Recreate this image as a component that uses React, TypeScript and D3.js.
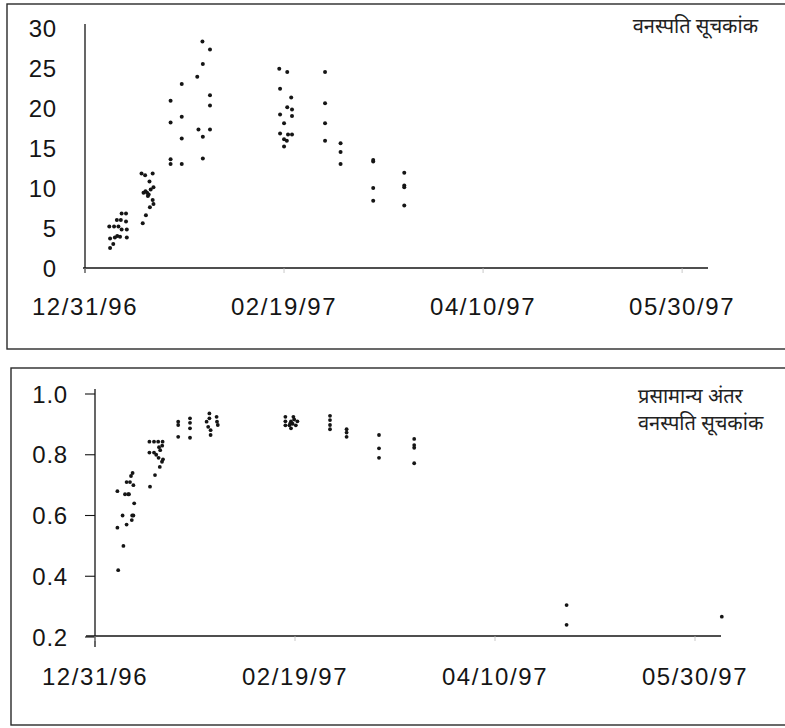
import React from "react";
import * as d3 from "d3";

// ---------- data ----------
// tick labels of the date axis (mm/dd/yy)
const dateTicks = ["12/31/96", "02/19/97", "04/10/97", "05/30/97"];
const axisEndDay = 156.5; // days after 12/31/96 where the axis line ends

// Top panel: vegetation index (days after 12/31/96, value)
const viDays = [
  6.3, 7.1, 6.3, 6.1, 7.3, 7.5, 8.1, 8.4, 8.0, 9.0, 9.2, 8.8, 10.3, 9.2, 10.3, 10.5, 10.5,
  14.5, 15.3, 14.2, 15.1, 16.2, 17.0, 17.2, 14.7, 15.2, 15.6, 16.0, 15.8, 16.3, 17.0, 17.2, 16.5,
  21.5, 21.5, 21.5, 21.5, 24.3, 24.3, 24.3, 24.3,
  29.5, 31.4, 29.6, 28.2, 31.4, 31.4, 28.5, 31.4, 29.6, 29.6,
  48.8, 50.8, 49.0, 51.8, 50.8, 52.0, 49.0, 52.0, 50.0, 49.0, 51.0, 52.0, 50.0, 50.7, 50.0,
  60.3, 60.3, 60.3, 60.3,
  64.2, 64.2, 64.2,
  72.4, 72.4, 72.4, 72.4,
  80.2, 80.2, 80.2, 80.2,
];
const viValues = [
  2.5, 3.0, 3.7, 5.2, 5.2, 3.8, 4.0, 5.2, 6.0, 6.0, 4.8, 3.9, 6.8, 6.8, 5.8, 4.8, 3.8,
  5.6, 6.6, 11.8, 11.6, 10.8, 11.8, 10.1, 9.4, 9.6, 9.4, 9.2, 9.0, 7.6, 8.5, 8.0, 9.8,
  20.9, 18.2, 13.6, 13.0, 23.0, 18.9, 16.2, 13.0,
  28.3, 27.3, 25.5, 23.9, 21.6, 20.3, 17.3, 17.3, 16.4, 13.7,
  24.9, 24.5, 22.4, 21.3, 20.1, 19.8, 19.2, 19.0, 18.1, 16.8, 16.7, 16.7, 16.1, 15.9, 15.2,
  24.5, 20.6, 18.1, 15.9,
  15.6, 14.5, 13.0,
  13.3, 13.5, 10.0, 8.4,
  11.9, 10.3, 10.1, 7.8,
];
const viTicks = [0, 5, 10, 15, 20, 25, 30];

// Bottom panel: normalized difference vegetation index
const ndviDays = [
  5.8, 5.6, 5.6, 7.1, 6.9, 7.9, 7.5, 8.3, 7.9, 8.75, 9.0, 9.4, 9.6, 9.8, 9.6, 9.3, 9.2, 8.5,
  13.75, 15.0, 13.6, 13.6, 14.75, 15.8, 16.9, 14.75, 15.3, 15.9, 16.3, 16.75, 16.2, 17.0, 16.0, 16.8,
  20.8, 20.8, 20.8, 23.75, 23.75, 23.75, 23.75,
  28.6, 27.9, 28.3, 28.9, 28.9, 30.4, 30.5, 30.7, 28.6,
  47.6, 47.6, 47.6, 48.6, 49.0, 49.4, 49.8, 50.6, 50.2, 49.0, 49.6, 48.8,
  58.75, 58.75, 58.75, 58.75,
  62.9, 62.9, 62.9,
  71.0, 71.0, 71.0,
  79.8, 79.8, 79.8, 79.8,
  117.9, 117.9,
  156.7,
];
const ndviValues = [
  0.42, 0.56, 0.68, 0.5, 0.6, 0.57, 0.67, 0.67, 0.71, 0.71, 0.73, 0.74, 0.7, 0.64, 0.6, 0.6, 0.585, 0.67,
  0.695, 0.733, 0.807, 0.843, 0.843, 0.843, 0.843, 0.807, 0.8, 0.79, 0.815, 0.777, 0.76, 0.785, 0.825, 0.83,
  0.909, 0.898, 0.859, 0.92, 0.905, 0.887, 0.856,
  0.936, 0.909, 0.892, 0.881, 0.865, 0.925, 0.909, 0.898, 0.92,
  0.925, 0.91, 0.897, 0.897, 0.887, 0.902, 0.916, 0.91, 0.897, 0.91, 0.925, 0.903,
  0.928, 0.914, 0.898, 0.884,
  0.884, 0.873, 0.859,
  0.865, 0.821, 0.79,
  0.852, 0.832, 0.823, 0.772,
  0.305, 0.24,
  0.267,
];
const ndviTicks = [0.2, 0.4, 0.6, 0.8, 1.0];

const viLegend = ["वनस्पति सूचकांक"];
const ndviLegend = ["प्रसामान्य अंतर", "वनस्पति सूचकांक"];

// ---------- helpers ----------
const parseDate = d3.utcParse("%m/%d/%y");
const startDate = parseDate(dateTicks[0]) as Date;
const dayToDate = (d: number) => new Date(startDate.getTime() + d * 864e5);

const INK = "#151515";
const NUM_FONT = "'Liberation Sans', Arial, sans-serif";
const DEV_FONT = "'Noto Sans Devanagari', 'Lohit Devanagari', 'Noto Sans', 'FreeSans', sans-serif";

type PanelProps = {
  days: number[];
  values: number[];
  yDomain: [number, number];
  yRange: [number, number];
  yTicks: number[];
  yFormat: (v: number) => string;
  xRange: [number, number];
  yAxisTop: number;
  yAxisBottom: number;
  xAxisY: number;
  xAxisStart: number;
  tickOut: number;
  labelRight: number;
  xLabelY: number;
  legend: string[];
  legendX: number;
  legendY: number;
  legendAnchor: "start" | "end";
  box: [number, number, number, number];
  r: number;
};

function Panel(p: PanelProps) {
  const x = d3
    .scaleUtc()
    .domain([startDate, dayToDate(axisEndDay)])
    .range(p.xRange);
  const y = d3.scaleLinear().domain(p.yDomain).range(p.yRange);
  const axisX = p.xRange[0];
  return (
    <g>
      <rect
        x={p.box[0]}
        y={p.box[1]}
        width={p.box[2]}
        height={p.box[3]}
        fill="none"
        stroke="#2a2a2a"
        strokeWidth={1.4}
      />
      {/* y axis */}
      <line x1={axisX} x2={axisX} y1={p.yAxisTop} y2={p.yAxisBottom} stroke={INK} strokeWidth={1.3} />
      {/* x axis */}
      <line x1={p.xAxisStart} x2={p.xRange[1]} y1={p.xAxisY} y2={p.xAxisY} stroke={INK} strokeWidth={1.3} />
      {p.yTicks.map((t) => (
        <g key={"yt" + t}>
          {p.tickOut > 0 && (
            <line x1={axisX - p.tickOut} x2={axisX} y1={y(t)} y2={y(t)} stroke={INK} strokeWidth={1.1} />
          )}
          <text
            x={p.labelRight}
            y={y(t)}
            textAnchor="end"
            dominantBaseline="central"
            fontFamily={NUM_FONT}
            fontSize={24}
            letterSpacing={0.8}
            fill={INK}
          >
            {p.yFormat(t)}
          </text>
        </g>
      ))}
      {dateTicks.map((s) => {
        const xv = x(parseDate(s) as Date);
        return (
          <g key={"xt" + s}>
            <line x1={xv} x2={xv} y1={p.xAxisY} y2={p.xAxisY + 5} stroke="#bbb" strokeWidth={0.8} />
            <text
              x={xv}
              y={p.xLabelY}
              textAnchor="middle"
              fontFamily={NUM_FONT}
              fontSize={24}
              letterSpacing={1.6}
              fill={INK}
            >
              {s}
            </text>
          </g>
        );
      })}
      {p.days.map((d, i) => (
        <circle key={"pt" + i} cx={x(dayToDate(d))} cy={y(p.values[i])} r={p.r} fill={INK} />
      ))}
      {p.legend.map((line, i) => (
        <text
          key={"lg" + i}
          x={p.legendX}
          y={p.legendY + i * 27}
          textAnchor={p.legendAnchor}
          fontFamily={DEV_FONT}
          fontSize={20}
          fill="#222"
        >
          {line}
        </text>
      ))}
    </g>
  );
}

export default function App() {
  return (
    <svg
      width={785}
      height={728}
      viewBox="0 0 785 728"
      style={{ position: "absolute", left: 0, top: 0, background: "#fff" }}
    >
      <rect x={0} y={0} width={785} height={728} fill="#fff" />
      <Panel
        days={viDays}
        values={viValues}
        yDomain={[0, 30]}
        yRange={[268, 28]}
        yTicks={viTicks}
        yFormat={(v) => String(v)}
        xRange={[85, 708]}
        yAxisTop={24}
        yAxisBottom={273}
        xAxisY={268}
        xAxisStart={83}
        tickOut={0}
        labelRight={57}
        xLabelY={315}
        legend={viLegend}
        legendX={758}
        legendY={33}
        legendAnchor="end"
        box={[7, 4, 820, 345]}
        r={2}
      />
      <Panel
        days={ndviDays}
        values={ndviValues}
        yDomain={[0.2, 1.0]}
        yRange={[637, 394]}
        yTicks={ndviTicks}
        yFormat={(v) => d3.format(".1f")(v)}
        xRange={[95, 721]}
        yAxisTop={389}
        yAxisBottom={647}
        xAxisY={636}
        xAxisStart={86}
        tickOut={10}
        labelRight={68}
        xLabelY={685}
        legend={ndviLegend}
        legendX={638}
        legendY={403}
        legendAnchor="start"
        box={[11, 368, 820, 357]}
        r={1.9}
      />
    </svg>
  );
}
